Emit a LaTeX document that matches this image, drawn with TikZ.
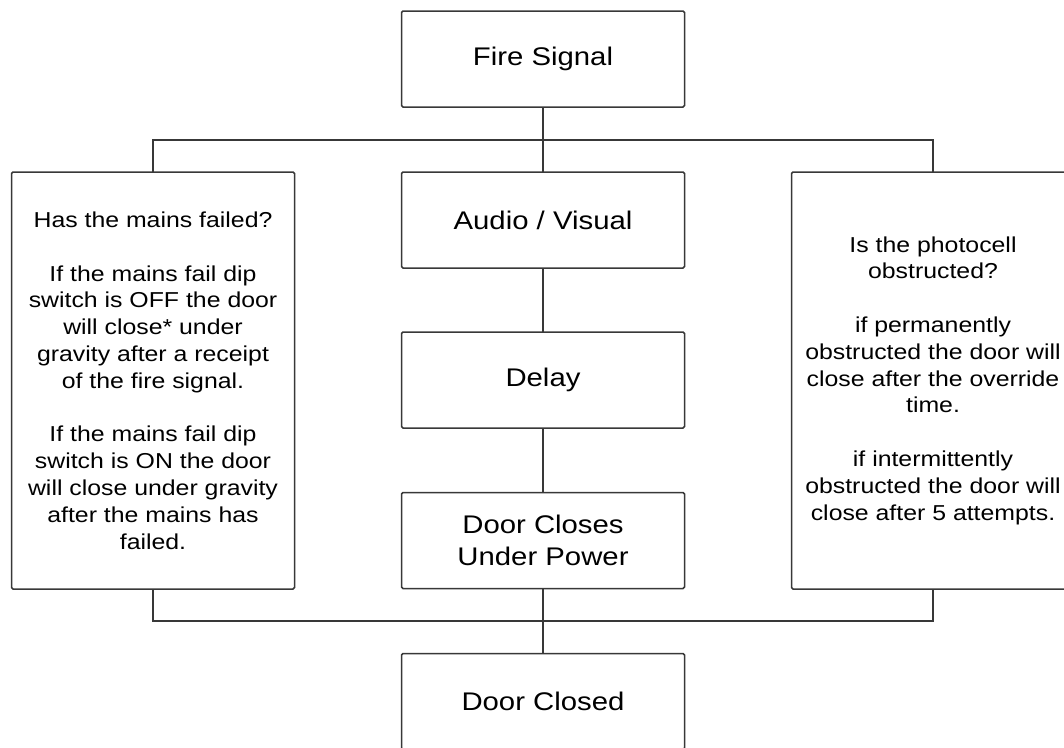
\documentclass[tikz,border=0pt]{standalone}
\usepackage{fontspec}
\setmainfont{Liberation Sans}[FakeStretch=1.15]
\begin{document}
\begin{tikzpicture}[x=1pt,y=-1pt,
  box/.style={draw=black!78,line width=1.5pt,rounded corners=1.5pt,fill=white,
    minimum width=283pt,inner sep=0pt,outer sep=0pt,align=center,text=black},
  stepbox/.style={box,minimum height=96pt,font=\fontsize{25.5}{32}\selectfont},
  sidebox/.style={box,minimum height=417pt,font=\fontsize{21.6}{26.8}\selectfont},
  conn/.style={draw=black!78,line width=1.5pt}]
\useasboundingbox (0,0) rectangle (1064,747);
\clip (0,0) rectangle (1064,747);
\fill[white] (0,0) rectangle (1064,747);
\node[stepbox] (fire) at (543,59) {Fire Signal};
\node[stepbox] (audio) at (543,220) {Audio / Visual};
\node[stepbox] (delay) at (543,380) {Delay};
\node[stepbox] (closes) at (543,540.5) {Door Closes\\Under Power};
\node[stepbox] (closed) at (543,701.5) {Door Closed};
\node[sidebox] (left) at (153,380.5) {Has the mains failed?\\[26.8pt]
If the mains fail dip\\switch is OFF the door\\will close* under\\gravity after a receipt\\of the fire signal.\\[26.8pt]
If the mains fail dip\\switch is ON the door\\will close under gravity\\after the mains has\\failed.};
\node[sidebox] (right) at (933,380.5) {Is the photocell\\obstructed?\\[26.8pt]
if permanently\\obstructed the door will\\close after the override\\time.\\[26.8pt]
if intermittently\\obstructed the door will\\close after 5 attempts.};
\coordinate (tj) at (543,140);
\coordinate (bj) at (543,621);
\draw[conn] (fire) -- (audio);
\draw[conn] (audio) -- (delay);
\draw[conn] (delay) -- (closes);
\draw[conn] (closes) -- (closed);
\draw[conn] (left.north) |- (tj) -| (right.north);
\draw[conn] (left.south) |- (bj) -| (right.south);
\end{tikzpicture}
\end{document}
